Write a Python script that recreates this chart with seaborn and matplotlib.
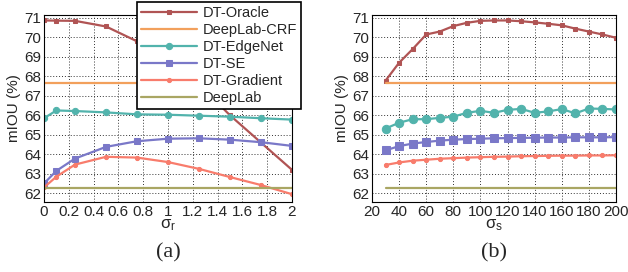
import matplotlib
matplotlib.use('Agg')
import matplotlib.pyplot as plt
import numpy as np
import pandas as pd
import seaborn as sns

# panel (a): sweep over sigma_r
sigma_r = [0, 0.1, 0.25, 0.5, 0.75, 1.0, 1.25, 1.5, 1.75, 2.0]
a_oracle = [70.87, 70.86, 70.85, 70.56, 69.8, 68.95, 67.6, 66.0, 64.6, 63.2]
a_edgenet = [65.85, 66.25, 66.22, 66.15, 66.05, 66.03, 65.98, 65.93, 65.85, 65.78]
a_se = [62.5, 63.15, 63.78, 64.38, 64.67, 64.8, 64.82, 64.75, 64.62, 64.43]
a_gradient = [62.3, 62.85, 63.47, 63.87, 63.83, 63.6, 63.25, 62.83, 62.42, 61.95]

# panel (b): sweep over sigma_s
sigma_s = [30, 40, 50, 60, 70, 80, 90, 100, 110, 120, 130, 140, 150, 160, 170, 180, 190, 200]
b_oracle = [67.78, 68.7, 69.4, 70.15, 70.3, 70.58, 70.75, 70.85, 70.87, 70.87,
            70.83, 70.77, 70.7, 70.62, 70.45, 70.3, 70.15, 69.98]
b_edgenet = [65.32, 65.62, 65.8, 65.8, 65.87, 65.93, 66.13, 66.23, 66.13, 66.28,
             66.33, 66.13, 66.2, 66.32, 66.1, 66.35, 66.33, 66.3]
b_se = [64.2, 64.42, 64.55, 64.63, 64.7, 64.75, 64.78, 64.8, 64.82, 64.83,
        64.84, 64.85, 64.86, 64.86, 64.87, 64.87, 64.87, 64.88]
b_gradient = [63.45, 63.58, 63.67, 63.72, 63.77, 63.8, 63.83, 63.85, 63.87, 63.88,
              63.9, 63.91, 63.92, 63.93, 63.93, 63.94, 63.94, 63.95]

# baselines (constant)
deeplab_crf = 67.65
deeplab = 62.25

colors = {
    'DT-Oracle': '#b05454',
    'DeepLab-CRF': '#f2a05c',
    'DT-EdgeNet': '#52b3ac',
    'DT-SE': '#7a78c8',
    'DT-Gradient': '#f87c6c',
    'DeepLab': '#a9a663',
}
markers = {'DT-Oracle': ('s', 3), 'DeepLab-CRF': (None, 0), 'DT-EdgeNet': ('o', 6),
           'DT-SE': ('s', 6), 'DT-Gradient': ('o', 3), 'DeepLab': (None, 0)}
order = ['DT-Oracle', 'DeepLab-CRF', 'DT-EdgeNet', 'DT-SE', 'DT-Gradient', 'DeepLab']


def make_df(x, oracle, edgenet, se, gradient):
    n = len(x)
    series = {'DT-Oracle': oracle, 'DeepLab-CRF': [deeplab_crf] * n,
              'DT-EdgeNet': edgenet, 'DT-SE': se, 'DT-Gradient': gradient,
              'DeepLab': [deeplab] * n}
    rows = []
    for name in order:
        for xv, yv in zip(x, series[name]):
            rows.append((xv, yv, name))
    return pd.DataFrame(rows, columns=['x', 'miou', 'method'])


sns.set_style('white')
plt.rcParams['font.family'] = ['Liberation Sans', 'DejaVu Sans']

fig = plt.figure(figsize=(6.28, 2.72), dpi=100)
ax1 = fig.add_axes([44 / 628, 1 - 202 / 272, 248 / 628, 187 / 272])
ax2 = fig.add_axes([372 / 628, 1 - 202 / 272, 244 / 628, 187 / 272])

for ax, df in [(ax1, make_df(sigma_r, a_oracle, a_edgenet, a_se, a_gradient)),
               (ax2, make_df(sigma_s, b_oracle, b_edgenet, b_se, b_gradient))]:
    for name in order:
        m, ms = markers[name]
        sub = df[df.method == name]
        sns.lineplot(data=sub, x='x', y='miou', ax=ax, color=colors[name], lw=1.6,
                     marker=m, markersize=ms, markeredgecolor=colors[name],
                     label=name, legend=False)
    ax.set_ylim(61.55, 71.15)
    ax.set_yticks(range(62, 72))
    ax.grid(True, color='#333333', linestyle=(0, (1, 2)), lw=0.7)
    ax.set_ylabel('mIOU (%)', fontsize=11, labelpad=2)
    ax.tick_params(labelsize=11, length=2, pad=2, direction='in')
    for s in ax.spines.values():
        s.set_color('black')
        s.set_linewidth(0.8)

ax1.set_xlim(0, 2)
ax1.set_xticks(np.arange(0, 2.01, 0.2))
ax1.set_xticklabels(['0', '0.2', '0.4', '0.6', '0.8', '1', '1.2', '1.4', '1.6', '1.8', '2'])
ax1.set_xlabel(r'$\mathregular{\sigma_r}$', fontsize=12, labelpad=-1)

ax2.set_xlim(20, 200)
ax2.set_xticks(range(20, 201, 20))
ax2.set_xlabel(r'$\mathregular{\sigma_s}$', fontsize=12, labelpad=-1)

handles, labels = ax1.get_legend_handles_labels()
for h in handles:
    h.set_markersize(min(h.get_markersize(), 4.5))
leg = ax1.legend(handles, labels, loc='upper left', bbox_to_anchor=(93 / 248, 1.07),
                 fontsize=10.5, frameon=True, fancybox=False, edgecolor='black',
                 framealpha=1, facecolor='white',
                 borderpad=0.3, labelspacing=0.2, handlelength=3.8, handletextpad=0.4,
                 borderaxespad=0)
leg.get_frame().set_linewidth(1.2)
leg.set_zorder(10)

fig.text(168 / 628, 1 - 253 / 272, '(a)', ha='center', va='center', fontsize=16,
         family=['Liberation Serif', 'DejaVu Serif'])
fig.text(494 / 628, 1 - 253 / 272, '(b)', ha='center', va='center', fontsize=16,
         family=['Liberation Serif', 'DejaVu Serif'])

fig.savefig('out.png', dpi=100)
